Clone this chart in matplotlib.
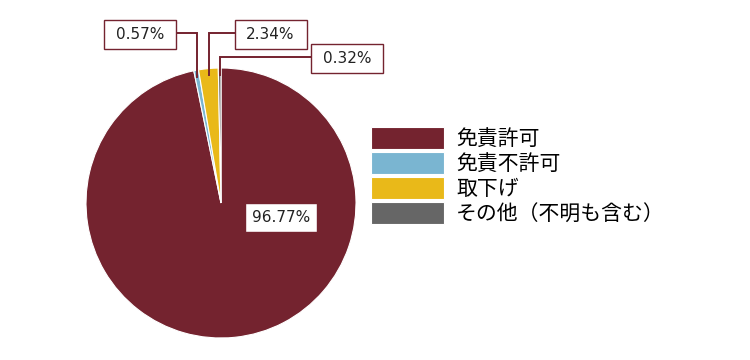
import numpy as np
import matplotlib
matplotlib.use("Agg")
import matplotlib.pyplot as plt
from matplotlib.patches import Rectangle

categories = ["免責許可", "免責不許可", "取下げ", "その他（不明も含む）"]
shares = [96.77, 0.57, 2.34, 0.32]
colors = ["#74232F", "#7AB5D1", "#E9B919", "#666666"]

# label box centres (pie data units) for each slice
label_pos = [(0.448, -0.104), (-0.60, 1.248), (0.367, 1.248), (0.937, 1.07)]
leader = [False, True, True, True]

W, H = 750, 360
fig = plt.figure(figsize=(W / 100, H / 100), dpi=100)
cx, cy, r = 221, 203, 135
ax = fig.add_axes([(cx - r) / W, (H - cy - r) / H, 2 * r / W, 2 * r / H])

wedges, _ = ax.pie(shares, colors=colors, startangle=90, counterclock=False,
                   radius=1, wedgeprops=dict(edgecolor="white", linewidth=0.8))
ax.set_xlim(-1, 1)
ax.set_ylim(-1, 1)
ax.set_aspect("equal")
ax.axis("off")

line_col = "#74232F"
bw, bh = 72 / r, 29 / r
for w, val, (lx, ly), lead in zip(wedges, shares, label_pos, leader):
    if lead:
        mid = np.deg2rad((w.theta1 + w.theta2) / 2)
        ex, ey = 0.95 * np.cos(mid), 0.95 * np.sin(mid)
        side = lx + bw / 2 if lx < ex else lx - bw / 2
        yy = ly + 0.01
        ax.plot([side, ex, ex], [yy, yy, ey], color=line_col, lw=1.4,
                clip_on=False, solid_joinstyle="miter", zorder=3)
    ax.add_patch(Rectangle((lx - bw / 2, ly - bh / 2), bw, bh, facecolor="white",
                           edgecolor=line_col, lw=1.0, clip_on=False, zorder=4))
    ax.text(lx, ly, f"{val:.2f}%", ha="center", va="center", fontsize=11,
            family="DejaVu Sans", color="#222222", zorder=5)

fig.legend(wedges, categories, loc="upper left",
           bbox_to_anchor=(371 / W, 1 - 127 / H), frameon=False,
           prop=dict(family=["Noto Sans CJK JP", "DejaVu Sans"], size=15),
           handlelength=3.5, handleheight=1.25, labelspacing=0.1,
           handletextpad=0.58, borderpad=0, borderaxespad=0)

fig.savefig("out.png", dpi=100, facecolor="white")
